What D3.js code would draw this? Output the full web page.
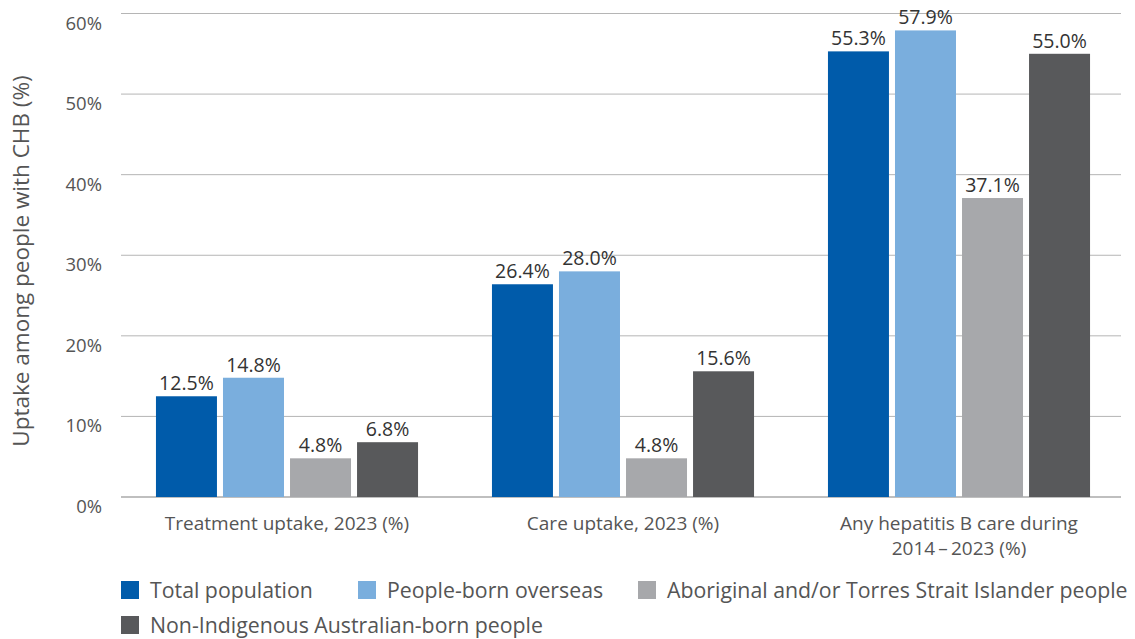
<!DOCTYPE html>
<html><head><meta charset="utf-8">
<script src="https://cdn.jsdelivr.net/npm/d3@7"></script>
<style>body{margin:0;background:#fff;} text{font-family:"Open Sans","Noto Sans",sans-serif;}</style>
</head><body><svg id="c" width="1135" height="639"></svg>
<script>
const categories = [["Treatment uptake, 2023 (%)"], ["Care uptake, 2023 (%)"], ["Any hepatitis B care during", "2014\u2009\u2013\u20092023 (%)"]];
const seriesNames = ["Total population", "People-born overseas", "Aboriginal and/or Torres Strait Islander people", "Non-Indigenous Australian-born people"];
const totalPopulation = [12.5, 26.4, 55.3];
const bornOverseas = [14.8, 28.0, 57.9];
const aboriginal = [4.8, 4.8, 37.1];
const nonIndigenous = [6.8, 15.6, 55.0];
const yTicks = [0, 10, 20, 30, 40, 50, 60];
const colors = ["#005BAA", "#7AAEDD", "#A7A8AB", "#58595B"];

const series = [totalPopulation, bornOverseas, aboriginal, nonIndigenous];
const svg = d3.select("#c");
const y = d3.scaleLinear().domain([0, 60]).range([497, 13.5]);
const x0 = d3.scaleBand().domain(d3.range(categories.length)).range([119, 1127]).paddingInner(0.22).paddingOuter(0.11);
const x1 = d3.scaleBand().domain(d3.range(series.length)).range([0, x0.bandwidth()]).paddingInner(0.09).paddingOuter(0);

// gridlines
svg.append("g").selectAll("line").data(yTicks).join("line")
  .attr("x1", 121).attr("x2", 1121)
  .attr("y1", d => y(d)).attr("y2", d => y(d))
  .attr("stroke", d => d === 0 ? "#aaaaaa" : "#b5b5b5").attr("stroke-width", d => d === 0 ? 1.5 : 1);

// y tick labels
svg.append("g").selectAll("text").data(yTicks).join("text")
  .attr("x", 102).attr("y", d => y(d) + 16)
  .attr("text-anchor", "end").attr("font-size", 18.5).attr("fill", "#555")
  .text(d => d + "%");

// y title
svg.append("text").attr("transform", "translate(29,261) rotate(-90)")
  .attr("text-anchor", "middle").attr("font-size", 22.5).attr("fill", "#555")
  .text("Uptake among people with CHB (%)");

// bars
const g = svg.append("g");
categories.forEach((c, ci) => {
  series.forEach((s, si) => {
    const bx = x0(ci) + x1(si);
    g.append("rect").attr("x", bx).attr("width", x1.bandwidth())
      .attr("y", y(s[ci])).attr("height", y(0) - y(s[ci])).attr("fill", colors[si]);
    g.append("text").attr("x", bx + x1.bandwidth() / 2).attr("y", y(s[ci]) - 6)
      .attr("text-anchor", "middle").attr("font-size", 19.5).attr("fill", "#333")
      .text(s[ci].toFixed(1) + "%");
  });
  const t = svg.append("text").attr("text-anchor", "middle").attr("font-size", 19).attr("fill", "#555");
  c.forEach((line, li) => {
    t.append("tspan").attr("x", x0(ci) + x0.bandwidth() / 2).attr("y", 530 + li * 25).text(line);
  });
});

// legend
const legendPos = [[121, 590], [358, 590], [638, 590], [121, 625]];
seriesNames.forEach((n, i) => {
  const [lx, ly] = legendPos[i];
  svg.append("rect").attr("x", lx).attr("y", ly - 9).attr("width", 18).attr("height", 18).attr("fill", colors[i]);
  svg.append("text").attr("x", lx + 29).attr("y", ly + 7.5).attr("font-size", 21.3).attr("fill", "#555").text(n);
});
</script></body></html>
